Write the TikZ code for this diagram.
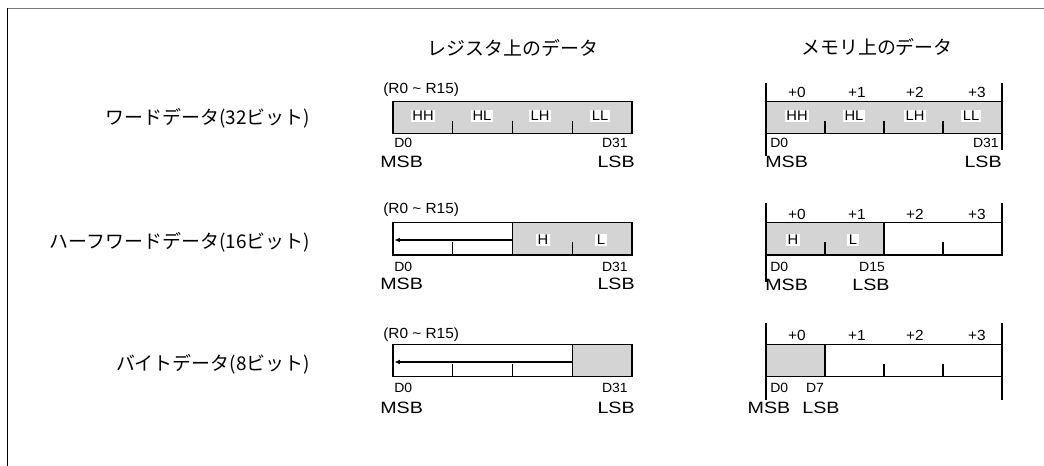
\documentclass[tikz,border=0pt]{standalone}
\usepackage{fontspec}
\setmainfont[FakeStretch=1.2]{Liberation Sans}
\newfontfamily\smallf[FakeStretch=1.05]{Liberation Sans}
\newfontfamily\jp{Noto Sans CJK JP}
\usetikzlibrary{arrows.meta}
\definecolor{cellgray}{RGB}{212,212,212}
\definecolor{framegray}{RGB}{120,120,120}
\tikzset{
  box/.style={draw, line width=1.1pt},
  tickln/.style={line width=0.9pt},
  vline/.style={line width=0.8pt},
  jptext/.style={font=\jp\fontsize{14.2pt}{16pt}\selectfont, inner sep=0pt},
  rlabel/.style={font=\smallf\fontsize{11pt}{12pt}\selectfont, inner sep=0pt, anchor=west},
  dlabel/.style={font=\smallf\fontsize{10pt}{11pt}\selectfont, inner sep=0pt},
  mlabel/.style={font=\fontsize{12.3pt}{13pt}\selectfont, inner sep=0pt},
  blabel/.style={font=\smallf\fontsize{10.5pt}{11pt}\selectfont, fill=white, inner sep=1.2pt},
  plabel/.style={font=\smallf\fontsize{11pt}{12pt}\selectfont, inner sep=0pt},
  shiftarrow/.style={line width=1.1pt, -{Latex[length=4pt,width=3.5pt]}},
}
\begin{document}
\begin{tikzpicture}[x=0.75pt,y=-0.75pt]
\useasboundingbox (0,0) rectangle (1044,466);
% frame
\draw[framegray, line width=1pt] (7,8.5) -- (1044,8.5);
\draw[line width=0.8pt] (7.5,8.5) -- (7.5,466);

% titles
\node[jptext] (treg) at (513,48) {レジスタ上のデータ};
\node[jptext] (tmem) at (877,47) {メモリ上のデータ};

% row labels
\node[jptext, anchor=east] (lw) at (310,118) {ワードデータ(32ビット)};
\node[jptext, anchor=east] (lh) at (310,242) {ハーフワードデータ(16ビット)};
\node[jptext, anchor=east] (lb) at (310,364) {バイトデータ(8ビット)};

%%%%% Row 1 : word
% register
\fill[cellgray] (393,101.7) rectangle (632,133.3);
\draw[box] (393,101.7) rectangle (632,133.3);
\foreach \x in {452.75,512.5,572.25} \draw[tickln] (\x,121) -- (\x,133.3);
\node[rlabel] (r1r) at (383,90) {(R0 \textasciitilde\ R15)};
\node[blabel] (r1hh) at (423,116) {HH};
\node[blabel] (r1hl) at (482,116) {HL};
\node[blabel] (r1lh) at (540,116) {LH};
\node[blabel] (r1ll) at (600,116) {LL};
\node[dlabel, anchor=west] (r1d0) at (394,142.5) {D0};
\node[dlabel, anchor=east] (r1d31) at (628,142.5) {D31};
\node[mlabel, anchor=west] (r1msb) at (380,162) {MSB};
\node[mlabel, anchor=east] (r1lsb) at (635,162) {LSB};
% memory
\fill[cellgray] (766,101.7) rectangle (1002,133.3);
\draw[box] (766,101.7) rectangle (1002,133.3);
\foreach \x in {825,884,943} \draw[tickln] (\x,121) -- (\x,133.3);
\draw[vline] (766,83) -- (766,156);
\draw[vline] (1002,83) -- (1002,150);
\node[plabel] (m1p0) at (797,92.5) {+0};
\node[plabel] (m1p1) at (857,92.5) {+1};
\node[plabel] (m1p2) at (915,92.5) {+2};
\node[plabel] (m1p3) at (977,92.5) {+3};
\node[blabel] (m1hh) at (797,116) {HH};
\node[blabel] (m1hl) at (854,116) {HL};
\node[blabel] (m1lh) at (915,116) {LH};
\node[blabel] (m1ll) at (971,116) {LL};
\node[dlabel, anchor=west] (m1d0) at (770,142.5) {D0};
\node[dlabel, anchor=east] (m1d31) at (999,142.5) {D31};
\node[mlabel, anchor=west] (m1msb) at (765,162) {MSB};
\node[mlabel, anchor=east] (m1lsb) at (1002,162) {LSB};

%%%%% Row 2 : half word
% register
\fill[cellgray] (512.5,222.7) rectangle (632,255);
\draw[box] (393,222.7) rectangle (632,255);
\draw[box] (512.5,222.7) -- (512.5,255);
\foreach \x in {452.75,572.25} \draw[tickln] (\x,242.5) -- (\x,255);
\node[rlabel] (r2r) at (383,210) {(R0 \textasciitilde\ R15)};
\node[blabel] (r2h) at (543,240) {H};
\node[blabel] (r2l) at (601,240) {L};
\coordinate (a2s) at (512.5,240);
\coordinate (a2e) at (394.5,240);
\draw[shiftarrow] (a2s) -- (a2e);
\node[dlabel, anchor=west] (r2d0) at (394,267) {D0};
\node[dlabel, anchor=east] (r2d31) at (628,267) {D31};
\node[mlabel, anchor=west] (r2msb) at (380,284) {MSB};
\node[mlabel, anchor=east] (r2lsb) at (635,284) {LSB};
% memory
\fill[cellgray] (766,222.7) rectangle (884,255);
\draw[box] (766,222.7) rectangle (1002,255);
\draw[box] (884,222.7) -- (884,255);
\foreach \x in {825,943} \draw[tickln] (\x,242.5) -- (\x,255);
\draw[vline] (766,203) -- (766,282);
\draw[vline] (1002,203) -- (1002,255);
\node[plabel] (m2p0) at (797,214) {+0};
\node[plabel] (m2p1) at (857,214) {+1};
\node[plabel] (m2p2) at (915,214) {+2};
\node[plabel] (m2p3) at (977,214) {+3};
\node[blabel] (m2h) at (793,240) {H};
\node[blabel] (m2l) at (853,240) {L};
\node[dlabel, anchor=west] (m2d0) at (770,266.5) {D0};
\node[dlabel] (m2d15) at (872,266.5) {D15};
\node[mlabel, anchor=west] (m2msb) at (765,285) {MSB};
\node[mlabel] (m2lsb) at (871,285) {LSB};

%%%%% Row 3 : byte
% register
\fill[cellgray] (572.25,344.3) rectangle (632,376.7);
\draw[box] (393,344.3) rectangle (632,376.7);
\draw[box] (572.25,344.3) -- (572.25,376.7);
\foreach \x in {452.75,512.5} \draw[tickln] (\x,364) -- (\x,376.7);
\node[rlabel] (r3r) at (383,335) {(R0 \textasciitilde\ R15)};
\coordinate (a3s) at (572.25,362);
\coordinate (a3e) at (394.5,362);
\draw[shiftarrow] (a3s) -- (a3e);
\node[dlabel, anchor=west] (r3d0) at (394,388.3) {D0};
\node[dlabel, anchor=east] (r3d31) at (628,388.3) {D31};
\node[mlabel, anchor=west] (r3msb) at (380,407.5) {MSB};
\node[mlabel, anchor=east] (r3lsb) at (635,407.5) {LSB};
% memory
\fill[cellgray] (766,344.3) rectangle (825,376.7);
\draw[box] (766,344.3) rectangle (1002,376.7);
\draw[box] (825,344.3) -- (825,376.7);
\foreach \x in {884,943} \draw[tickln] (\x,364) -- (\x,376.7);
\draw[vline] (766,323) -- (766,400);
\draw[vline] (1002,323) -- (1002,400);
\node[plabel] (m3p0) at (797,335) {+0};
\node[plabel] (m3p1) at (857,335) {+1};
\node[plabel] (m3p2) at (915,335) {+2};
\node[plabel] (m3p3) at (977,335) {+3};
\node[dlabel, anchor=west] (m3d0) at (770,388.3) {D0};
\node[dlabel] (m3d7) at (815,388.3) {D7};
\node[mlabel] (m3msb) at (769,407.5) {MSB};
\node[mlabel] (m3lsb) at (821,407.5) {LSB};
\end{tikzpicture}
\end{document}
